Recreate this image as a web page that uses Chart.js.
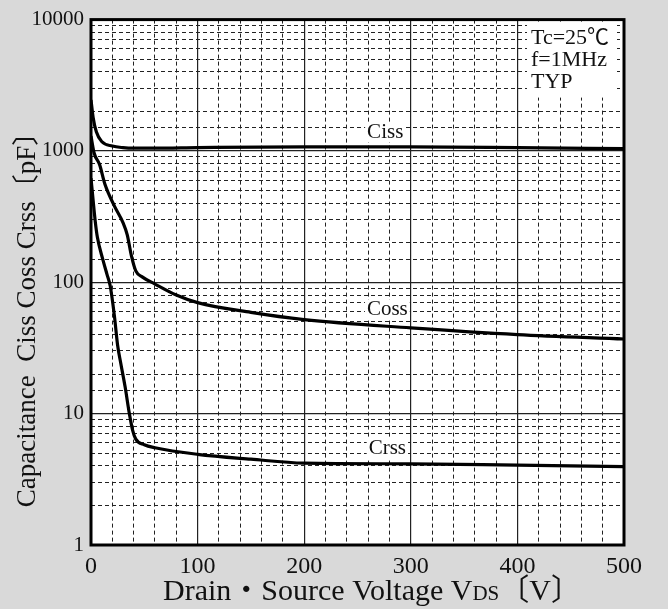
<!DOCTYPE html>
<html>
<head>
<meta charset="utf-8">
<script src="https://cdn.jsdelivr.net/npm/chart.js@4"></script>
<style>
  body { margin: 0; background: #d9d9d9; }
  #wrap { width: 668px; height: 609px; }
</style>
</head>
<body>
<div id="wrap"><canvas id="capChart" width="668" height="609"></canvas></div>
<script>
const xTickLabels = [0, 100, 200, 300, 400, 500];
const yTickLabels = [1, 10, 100, 1000, 10000];

const cissV = [0, 2, 5, 10, 20, 30, 40, 60, 100, 200, 300, 400, 500];
const cissC = [2450, 1800, 1400, 1180, 1090, 1060, 1050, 1050, 1060, 1075, 1075, 1060, 1040];

const cossV = [0, 3, 8, 13, 22, 30, 34, 38, 42, 48, 60, 80, 100, 150, 200, 300, 400, 500];
const cossC = [1300, 960, 790, 560, 380, 285, 230, 158, 122, 110, 97, 80, 70, 59, 52, 45, 40, 37];

const crssV = [0, 2, 4, 6, 11, 15, 18, 22, 25, 28, 32, 36, 39, 42, 50, 60, 100, 150, 200, 300, 400, 500];
const crssC = [620, 420, 290, 220, 150, 115, 94, 55, 33, 24, 16, 10, 7.5, 6.4, 5.8, 5.5, 4.9, 4.5, 4.2, 4.15, 4.05, 3.95];

const curveLabels = [
  { text: "Ciss", x: 276, y: 1384 },
  { text: "Coss", x: 278, y: 62 },
  { text: "Crss", x: 278, y: 5.47 }
];
const noteLines = ["Tc=25℃", "f=1MHz", "TYP"];

function toPoints(xs, ys) {
  return xs.map((v, i) => ({ x: v, y: ys[i] }));
}

const serif = "'Liberation Serif', 'Noto Sans CJK JP', serif";

/* frame, notes, labels and axis titles */
const decorPlugin = {
  id: "decor",
  beforeDraw(chart) {
    const { ctx, chartArea } = chart;
    ctx.save();
    ctx.fillStyle = "#ffffff";
    ctx.fillRect(chartArea.left, chartArea.top, chartArea.right - chartArea.left, chartArea.bottom - chartArea.top);
    ctx.restore();
  },
  afterDatasetsDraw(chart) {
    const { ctx, chartArea, scales } = chart;
    ctx.save();
    ctx.font = "21px " + serif;
    ctx.textBaseline = "middle";

    // curve names on white boxes
    curveLabels.forEach(l => {
      const px = scales.x.getPixelForValue(l.x);
      const py = scales.y.getPixelForValue(l.y);
      const w = ctx.measureText(l.text).width;
      ctx.fillStyle = "#ffffff";
      ctx.fillRect(px - w / 2 - 2, py - 10, w + 4, 20);
      ctx.fillStyle = "#111";
      ctx.textAlign = "center";
      ctx.fillText(l.text, px, py);
    });

    // conditions box
    ctx.font = "22px " + serif;
    ctx.fillStyle = "#ffffff";
    ctx.fillRect(chartArea.right - 97, chartArea.top + 2, 90, 76);
    ctx.fillStyle = "#111";
    ctx.textAlign = "left";
    noteLines.forEach((t, i) => {
      ctx.fillText(t, chartArea.right - 93, chartArea.top + 19 + i * 22);
    });

    // thick frame
    ctx.strokeStyle = "#000";
    ctx.lineWidth = 3;
    ctx.strokeRect(chartArea.left, chartArea.top, chartArea.right - chartArea.left, chartArea.bottom - chartArea.top);

    // x axis title with small DS
    const big = "30px " + serif;
    const small = "21px " + serif;
    const parts = [
      { t: "Drain・Source Voltage V", f: big },
      { t: "DS", f: small },
      { t: "〔V〕", f: big }
    ];
    let total = 0;
    parts.forEach(p => { ctx.font = p.f; p.w = ctx.measureText(p.t).width; total += p.w; });
    let x0 = 372 - total / 2;
    ctx.textBaseline = "alphabetic";
    ctx.fillStyle = "#111";
    parts.forEach(p => {
      ctx.font = p.f;
      ctx.fillText(p.t, x0, 600);
      x0 += p.w;
    });

    // y axis title
    ctx.translate(28, 313);
    ctx.rotate(-Math.PI / 2);
    ctx.font = "27px " + serif;
    ctx.textAlign = "center";
    ctx.textBaseline = "middle";
    ctx.fillText("Capacitance  Ciss Coss Crss〔pF〕", 0, 0);
    ctx.restore();
  }
};

new Chart(document.getElementById("capChart"), {
  type: "line",
  data: {
    datasets: [
      { label: "Ciss", data: toPoints(cissV, cissC) },
      { label: "Coss", data: toPoints(cossV, cossC) },
      { label: "Crss", data: toPoints(crssV, crssC) }
    ]
  },
  options: {
    responsive: false,
    animation: false,
    layout: { padding: { top: 14, right: 44, left: 0, bottom: 0 } },
    elements: {
      line: { borderColor: "#000", borderWidth: 3.2, cubicInterpolationMode: "monotone" },
      point: { radius: 0 }
    },
    plugins: {
      legend: { display: false },
      tooltip: { enabled: false }
    },
    scales: {
      x: {
        type: "linear",
        min: 0,
        max: 500,
        afterFit(scale) { scale.height = 64; },
        ticks: {
          stepSize: 20,
          autoSkip: false,
          maxRotation: 0,
          padding: 7,
          color: "#111",
          font: { family: serif, size: 24 },
          callback: v => (xTickLabels.includes(v) ? String(v) : "")
        },
        grid: {
          drawTicks: false,
          color: "#222",
          lineWidth: ctx => (ctx.tick && ctx.tick.value % 100 === 0 ? 1.2 : 1)
        },
        border: {
          display: false,
          dash: ctx => (ctx.tick && ctx.tick.value % 100 === 0 ? [] : [4, 3])
        }
      },
      y: {
        type: "logarithmic",
        min: 1,
        max: 10000,
        afterFit(scale) { scale.width = 91; },
        ticks: {
          autoSkip: false,
          padding: 7,
          color: "#111",
          font: { family: serif, size: 21 },
          callback: v => (yTickLabels.includes(v) ? String(v) : "")
        },
        grid: {
          drawTicks: false,
          color: "#222",
          lineWidth: ctx => (ctx.tick && yTickLabels.includes(ctx.tick.value) ? 1.2 : 1)
        },
        border: {
          display: false,
          dash: ctx => (ctx.tick && yTickLabels.includes(ctx.tick.value) ? [] : [4, 3])
        }
      }
    }
  },
  plugins: [decorPlugin]
});
</script>
</body>
</html>
